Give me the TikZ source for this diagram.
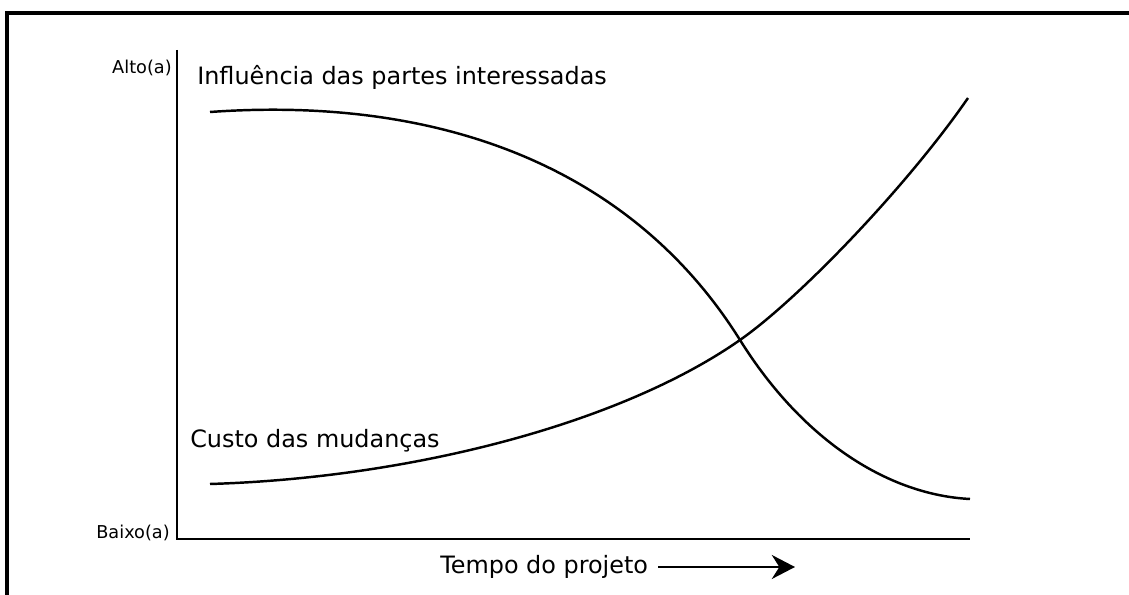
\documentclass[tikz,border=0pt]{standalone}
\usepackage{fontspec}
\setmainfont{DejaVu Sans}
\usetikzlibrary{positioning, arrows.meta}

\begin{document}
\begin{tikzpicture}[
  curve/.style={line width=1.75pt},
  axis/.style={line width=1.7pt},
  big/.style={font=\fontsize{17}{20}\selectfont, inner sep=0pt},
  small/.style={font=\fontsize{12.6}{15}\selectfont, inner sep=0pt}]
  \useasboundingbox (0,0) rectangle (28.225,14.875);
  \draw[line width=2.2pt] (0.175,0) -- (0.175,14.55) -- (28.225,14.55);
  \draw[axis] (4.425,13.625) -- (4.425,1.4) -- (24.25,1.4);
  \node[small, anchor=base east] (alto) at (4.3,13.025) {Alto(a)};
  \node[small, anchor=base east] (baixo) at (4.25,1.4) {Baixo(a)};
  % influencia
  \draw[curve] (5.25,12.075) .. controls (11.25,12.5) and (15.9,10.535) .. (18.5,6.375)
    .. controls (20.1,3.815) and (22.25,2.5) .. (24.25,2.4);
  % custo
  \draw[curve] (5.25,2.775) .. controls (10.25,2.925) and (15.5,4.275) .. (18.5,6.375)
    .. controls (20.0,7.425) and (22.7,10.25) .. (24.2,12.425);
  \node[big, anchor=base west] (influ) at (4.925,12.75) {Influência das partes interessadas};
  \node[big, anchor=base west] (custo) at (4.75,3.675) {Custo das mudanças};
  \node[big, anchor=base west] (tempo) at (11,0.525) {Tempo do projeto};
  \coordinate (seta) at (19.875,0.7);
  \draw[line width=1.6pt, -{Stealth[length=0.58cm, width=0.6cm]}, shorten <=0.25cm]
    (tempo.east |- seta) -- (seta);
\end{tikzpicture}
\end{document}
